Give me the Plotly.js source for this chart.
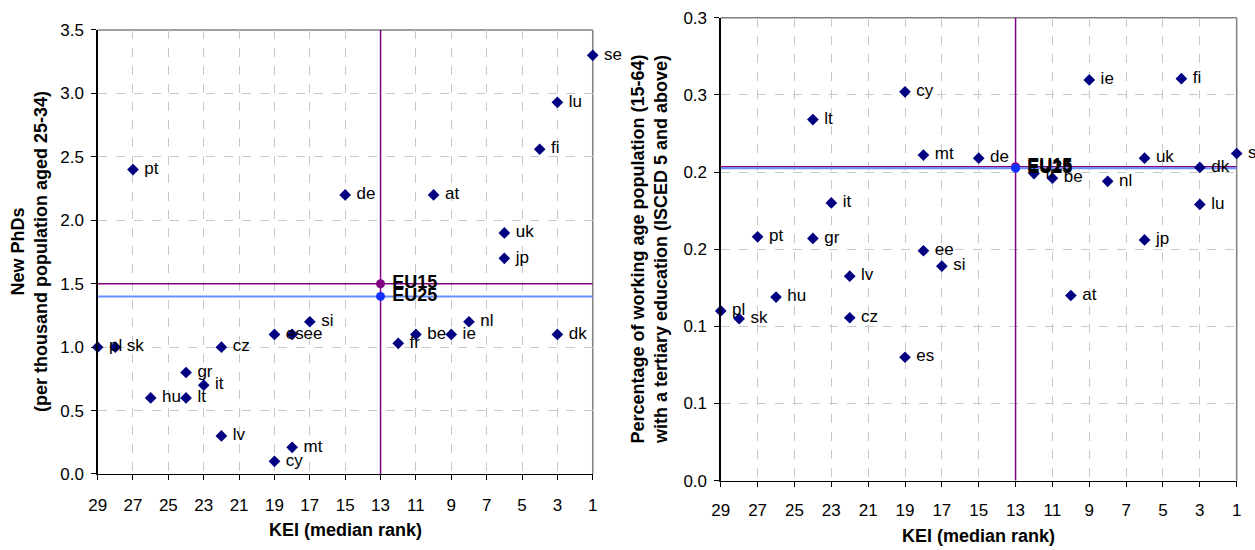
<!DOCTYPE html>
<html>
<head>
<meta charset="utf-8">
<script src="https://cdn.plot.ly/plotly-3.0.1.min.js"></script>
<style>html,body{margin:0;padding:0;background:#fff;}#chart{width:1255px;height:550px;}</style>
</head>
<body>
<div id="chart"></div>
<script>
// ---- data ----
const countries = ['pt','de','at','se','lu','fi','uk','jp','si','es','ee','nl','be','ie','fr','dk','pl','sk','cz','gr','it','hu','lt','lv','mt','cy'];
const keiRank   = [27,15,10,1,3,4,6,6,17,19,18,8,11,9,12,3,29,28,22,24,23,26,24,22,18,19];
const newPhDs   = [2.4,2.2,2.2,3.3,2.93,2.56,1.9,1.7,1.2,1.1,1.1,1.2,1.1,1.1,1.03,1.1,1.0,1.0,1.0,0.8,0.7,0.6,0.6,0.3,0.21,0.1];
const tertiary  = [0.158,0.209,0.120,0.212,0.179,0.2605,0.209,0.156,0.139,0.080,0.149,0.194,0.196,0.2597,0.199,0.203,0.110,0.105,0.1056,0.157,0.180,0.119,0.234,0.1325,0.211,0.252];

const euNames = ['EU15','EU25'];
const euRank = 13;
const euPhDs = [1.5, 1.4];
const euTertiary = [0.2035, 0.2025];

const rankRange = [29, 1];
const leftYRange = [0, 3.5];
const rightYRange = [0, 0.3];
const xTickVals = [29,27,25,23,21,19,17,15,13,11,9,7,5,3,1];
const leftYTickVals = [0,0.5,1,1.5,2,2.5,3,3.5];
const leftYTickText = ['0.0','0.5','1.0','1.5','2.0','2.5','3.0','3.5'];
const rightYTickVals = [0,0.05,0.1,0.15,0.2,0.25,0.3];
const rightYTickText = ['0.0','0.1','0.1','0.2','0.2','0.3','0.3'];

// ---- styling ----
const FONT = 'Liberation Sans, Arial, sans-serif';
const navy = '#000080';
const purple = '#800080';
const lightBlue = '#6a8fff';
const blue = '#1030ff';
const euColors = [purple, blue];
const euLineColors = [purple, lightBlue];

function pointTrace(x, y, xa, ya) {
  return {
    type: 'scatter', mode: 'markers+text', x: x, y: y, text: countries,
    texttemplate: '\u00a0%{text}',
    textposition: 'middle right', cliponaxis: false,
    textfont: {family: FONT, size: 17, color: '#000'},
    marker: {symbol: 'diamond', size: 9, color: navy},
    xaxis: xa, yaxis: ya, showlegend: false, hoverinfo: 'skip'
  };
}
function euTrace(i, yv, xa, ya) {
  return {
    type: 'scatter', mode: 'markers+text', x: [euRank], y: [yv], text: [euNames[i]],
    texttemplate: '\u00a0<b>%{text}</b>',
    textposition: 'middle right', cliponaxis: false,
    textfont: {family: FONT, size: 18, color: '#000'},
    marker: {symbol: 'circle', size: 9, color: euColors[i]},
    xaxis: xa, yaxis: ya, showlegend: false, hoverinfo: 'skip'
  };
}
// reference lines drawn through the EU averages
function hLine(i, yv, xa, ya) {
  const ext = (rankRange[1] - rankRange[0]) * 0.01;
  return {
    type: 'scatter', mode: 'lines', x: [rankRange[0], rankRange[1] + ext], y: [yv, yv], cliponaxis: false,
    line: {color: euLineColors[i], width: i === 0 ? 1.5 : 2},
    xaxis: xa, yaxis: ya, showlegend: false, hoverinfo: 'skip'
  };
}
function vLine(yr, xa, ya) {
  return {
    type: 'scatter', mode: 'lines', x: [euRank, euRank], y: [yr[0], yr[1] + (yr[1] - yr[0]) * 0.01], cliponaxis: false,
    line: {color: purple, width: 1.5},
    xaxis: xa, yaxis: ya, showlegend: false, hoverinfo: 'skip'
  };
}

const data = [
  hLine(0, euPhDs[0], 'x', 'y'), hLine(1, euPhDs[1], 'x', 'y'), vLine(leftYRange, 'x', 'y'),
  hLine(0, euTertiary[0], 'x2', 'y2'), hLine(1, euTertiary[1], 'x2', 'y2'), vLine(rightYRange, 'x2', 'y2'),
  pointTrace(keiRank, newPhDs, 'x', 'y'),
  pointTrace(keiRank, tertiary, 'x2', 'y2'),
  euTrace(0, euPhDs[0], 'x', 'y'), euTrace(1, euPhDs[1], 'x', 'y'),
  euTrace(0, euTertiary[0], 'x2', 'y2'), euTrace(1, euTertiary[1], 'x2', 'y2')
];

function xAxis(domain, anchor, standoff) {
  return {
    domain: domain, anchor: anchor, range: rankRange, tickvals: xTickVals,
    ticks: 'outside', ticklen: 5, tickcolor: '#000', ticklabelstandoff: standoff,
    showline: true, linecolor: '#000', linewidth: 1.3,
    showgrid: true, gridcolor: '#c8c8c8', griddash: 'dash', gridwidth: 1,
    zeroline: false, tickfont: {family: FONT, size: 17, color: '#000'}, fixedrange: true
  };
}
function yAxis(domain, anchor, range, tv, tt) {
  return {
    domain: domain, anchor: anchor, range: range, tickvals: tv, ticktext: tt,
    ticks: 'outside', ticklen: 5, tickcolor: '#000', ticklabelstandoff: 4,
    showline: true, linecolor: '#000', linewidth: 1.3,
    showgrid: true, gridcolor: '#c8c8c8', griddash: 'dash', gridwidth: 1,
    zeroline: false, tickfont: {family: FONT, size: 17, color: '#000'}, fixedrange: true
  };
}

function frame(xa, ya) {
  const xd = xa + ' domain', yd = ya + ' domain';
  return [
    {type: 'line', xref: xd, yref: yd, x0: 0, x1: 1, y0: 1, y1: 1, line: {color: '#808080', width: 1.5}, layer: 'below'},
    {type: 'line', xref: xd, yref: yd, x0: 1, x1: 1, y0: 0, y1: 1, line: {color: '#808080', width: 1.5}, layer: 'below'}
  ];
}

const titleFont = {family: FONT, size: 18, color: '#000'};
const layout = {
  width: 1255, height: 550, margin: {l: 0, r: 0, t: 0, b: 0},
  paper_bgcolor: '#fff', plot_bgcolor: '#fff', showlegend: false,
  xaxis: xAxis([0.0778, 0.4723], 'y', 10),
  yaxis: yAxis([0.1382, 0.9455], 'x', leftYRange, leftYTickVals, leftYTickText),
  xaxis2: xAxis([0.5743, 0.9854], 'y2', 9),
  yaxis2: yAxis([0.126, 0.9678], 'x2', rightYRange, rightYTickVals, rightYTickText),
  shapes: [].concat(frame('x', 'y'), frame('x2', 'y2')),
  annotations: [
    {xref: 'paper', yref: 'paper', x: 29/1255, y: 1 - 252/550, xanchor: 'center', yanchor: 'middle', textangle: -90, showarrow: false,
     text: '<b>New PhDs<br>(per thousand population aged 25-34)</b>', font: titleFont},
    {xref: 'paper', yref: 'paper', x: 650/1255, y: 1 - 249/550, xanchor: 'center', yanchor: 'middle', textangle: -90, showarrow: false,
     text: '<b>Percentage of working age population (15-64)<br>with a tertiary education (ISCED 5 and above)</b>', font: titleFont},
    {xref: 'paper', yref: 'paper', x: 345/1255, y: 1 - 530/550, xanchor: 'center', yanchor: 'middle', showarrow: false,
     text: '<b>KEI (median rank)</b>', font: titleFont},
    {xref: 'paper', yref: 'paper', x: 979/1255, y: 1 - 536/550, xanchor: 'center', yanchor: 'middle', showarrow: false,
     text: '<b>KEI (median rank)</b>', font: titleFont}
  ]
};

Plotly.newPlot('chart', data, layout, {displayModeBar: false, staticPlot: true});
</script>
</body>
</html>
